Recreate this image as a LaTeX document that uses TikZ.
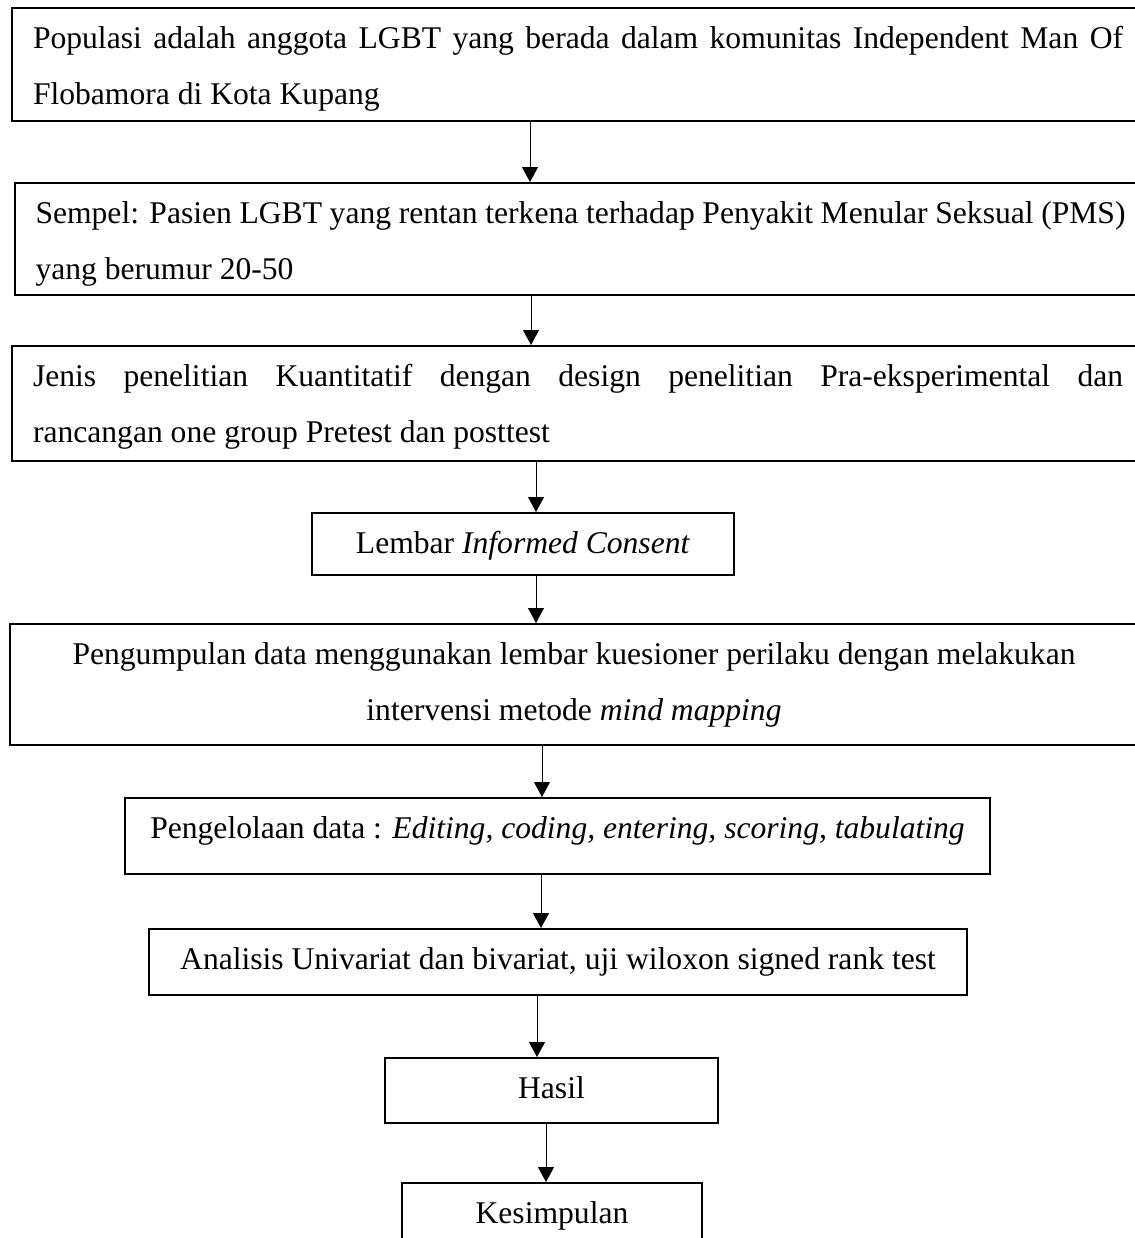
\documentclass[tikz,border=0pt]{standalone}
\usepackage{fontspec}
\setmainfont{Liberation Serif}
\usetikzlibrary{arrows.meta}
\hyphenpenalty=10000
\exhyphenpenalty=10000
\tolerance=10000

\begin{document}
\begin{tikzpicture}[x=0.5pt,y=-0.5pt]
\tikzstyle{every node}=[draw,line width=1pt,inner ysep=0pt,text height=20pt,font={\fontsize{15.8pt}{28pt}\selectfont}];
\tikzstyle{wide}=[anchor=north west,inner xsep=10.5pt,text width=545pt,align=justify];
\tikzstyle{narrow}=[anchor=north,inner xsep=0pt];
\tikzstyle{arr}=[line width=0.5pt,-{Triangle[length=7.5pt,width=8pt]}];
\useasboundingbox (0,0) rectangle (1135,1238);

\node[wide,text depth=36.5pt] (pop) at (11,7) {Populasi adalah anggota LGBT yang berada dalam komunitas Independent Man Of\linebreak Flobamora di Kota Kupang};
\node[wide,text depth=36pt] (smp) at (13.5,182) {Sempel: Pasien LGBT yang rentan terkena terhadap Penyakit Menular Seksual (PMS)\linebreak yang berumur 20-50};
\node[wide,text depth=37.5pt] (jns) at (11,345) {Jenis penelitian Kuantitatif dengan design penelitian Pra-eksperimental dan\linebreak rancangan one group Pretest dan posttest};
\node[narrow,minimum width=211pt,text depth=11pt] (ic) at (523,512) {Lembar \textit{Informed Consent}};
\node[anchor=north west,inner xsep=0pt,text width=564pt,align=flush center,text depth=40.5pt] (kump) at (9,623) {Pengumpulan data menggunakan lembar kuesioner perilaku dengan melakukan\\ intervensi metode \textit{mind mapping}};
\node[narrow,minimum width=432.5pt,text depth=18pt] (olah) at (557.5,797) {Pengelolaan data : \textit{Editing, coding, entering, scoring, tabulating}};
\node[narrow,minimum width=409pt,text depth=13pt] (anl) at (558,928) {Analisis Univariat dan bivariat, uji wiloxon signed rank test};
\node[narrow,minimum width=166.5pt,text depth=12.5pt] (hsl) at (551.5,1057) {Hasil};
\node[narrow,minimum width=150pt,text depth=20pt] (kes) at (552,1182) {Kesimpulan};

% arrow columns
\coordinate (c1) at (530,0);
\coordinate (c2) at (531,0);
\coordinate (c3) at (536,0);
\coordinate (c4) at (536,0);
\coordinate (c5) at (542,0);
\coordinate (c6) at (541,0);
\coordinate (c7) at (537,0);
\coordinate (c8) at (546,0);

\draw[arr] (pop.south -| c1) -- (smp.north -| c1);
\draw[arr] (smp.south -| c2) -- (jns.north -| c2);
\draw[arr] (jns.south -| c3) -- (ic.north -| c3);
\draw[arr] (ic.south -| c4) -- (kump.north -| c4);
\draw[arr] (kump.south -| c5) -- (olah.north -| c5);
\draw[arr] (olah.south -| c6) -- (anl.north -| c6);
\draw[arr] (anl.south -| c7) -- (hsl.north -| c7);
\draw[arr] (hsl.south -| c8) -- (kes.north -| c8);
\end{tikzpicture}
\end{document}
